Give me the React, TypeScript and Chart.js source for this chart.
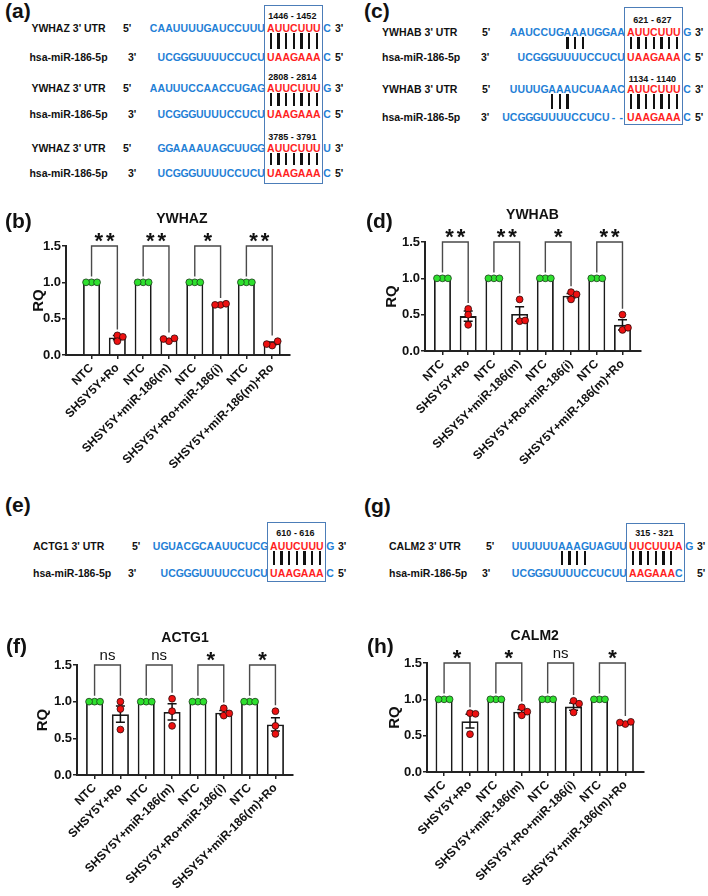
import React, { useEffect, useRef } from "react";
import { Chart, registerables } from "chart.js";

Chart.register(...registerables);

const FONT = '"Liberation Sans", Arial, Helvetica, sans-serif';
Chart.defaults.font.family = FONT;

// ---------------- bar chart data ----------------
const groupLabels = [
  "NTC",
  "SHSY5Y+Ro",
  "NTC",
  "SHSY5Y+miR-186(m)",
  "NTC",
  "SHSY5Y+Ro+miR-186(i)",
  "NTC",
  "SHSY5Y+miR-186(m)+Ro",
];
const yTickValues = [0, 0.5, 1.0, 1.5];

const ywhazMeans = [1, 0.24, 1, 0.21, 1, 0.7, 1, 0.16];
const ywhazSem = [0, 0.03, 0, 0.015, 0, 0.005, 0, 0.018];
const ywhazPoints = [
  [1, 1, 1], [0.27, 0.19, 0.25], [1, 1, 1], [0.19, 0.23, 0.22],
  [1, 1, 1], [0.69, 0.705, 0.69], [1, 1, 1], [0.13, 0.19, 0.15],
];
const ywhazSig = ["**", "**", "*", "**"];

const ywhabMeans = [1, 0.48, 1, 0.51, 1, 0.76, 1, 0.36];
const ywhabSem = [0, 0.07, 0, 0.1, 0, 0.03, 0, 0.07];
const ywhabPoints = [
  [1, 1, 1], [0.58, 0.5, 0.36], [1, 1, 1], [0.71, 0.41, 0.42],
  [1, 1, 1], [0.81, 0.71, 0.78], [1, 1, 1], [0.5, 0.29, 0.32],
];
const ywhabSig = ["**", "**", "*", "**"];

const actg1Means = [1, 0.83, 1, 0.86, 1, 0.85, 1, 0.69];
const actg1Sem = [0, 0.11, 0, 0.11, 0, 0.03, 0, 0.09];
const actg1Points = [
  [1, 1, 1], [1.0, 0.9, 0.62], [1, 1, 1], [1.04, 0.87, 0.67],
  [1, 1, 1], [0.91, 0.81, 0.84], [1, 1, 1], [0.87, 0.67, 0.56],
];
const actg1Sig = ["ns", "ns", "*", "*"];

const calm2Means = [1, 0.7, 1, 0.83, 1, 0.9, 1, 0.67];
const calm2Sem = [0, 0.095, 0, 0.03, 0, 0.05, 0, 0.01];
const calm2Points = [
  [1, 1, 1], [0.81, 0.8, 0.52], [1, 1, 1], [0.89, 0.78, 0.83],
  [1, 1, 1], [0.98, 0.82, 0.94], [1, 1, 1], [0.66, 0.69, 0.68],
];
const calm2Sig = ["*", "*", "ns", "*"];

// ---------------- sequence data ----------------
const mirLabel = "hsa-miR-186-5p";
const ywhazSites = [
  { span: "1446 - 1452", utr: ["CAAUUUUGAUCCUUU", "AUUCUUU", "C"], mir: ["UCGGGUUUUCCUCU", "UAAGAAA", "C"], mirRed: 7, pairs: [0, 1, 2, 3, 4, 5, 6] },
  { span: "2808 - 2814", utr: ["AAUUUCCAACCUGAG", "AUUCUUU", "G"], mir: ["UCGGGUUUUCCUCU", "UAAGAAA", "C"], mirRed: 7, pairs: [0, 1, 2, 3, 4, 5, 6] },
  { span: "3785 - 3791", utr: ["GGAAAAUAGCUUGG", "AUUCUUU", "U"], mir: ["UCGGGUUUUCCUCU", "UAAGAAA", "C"], mirRed: 7, pairs: [0, 1, 2, 3, 4, 5, 6] },
];
const ywhabSites = [
  { span: "621 - 627", utr: ["AAUCCUGAAAUGGAA", "AUUCUUU", "G"], mir: ["UCGGGUUUUCCUCU", "UAAGAAA", "C"], mirRed: 7, pairs: [-8, -7, -6, 0, 1, 2, 3, 4, 5, 6] },
  { span: "1134 - 1140", utr: ["UUUUGAAAUCUAAAC", "AUUCUUU", "C"], mir: ["UCGGGUUUUCCUCU--", "UAAGAAA", "C"], mirRed: 7, pairs: [-10, -9, -8, 0, 1, 2, 3, 4, 5, 6] },
];
const actg1Sites = [
  { span: "610 - 616", utr: ["UGUACGCAAUUCUCG", "AUUCUUU", "G"], mir: ["UCGGGUUUUCCUCU", "UAAGAAA", "C"], mirRed: 7, pairs: [0, 1, 2, 3, 4, 5, 6] },
];
const calm2Sites = [
  { span: "315 - 321", utr: ["UUUUUUAAAGUAGUU", "UUCUUUA", "G"], mir: ["UCGGGUUUUCCUCUU", "AAGAAAC", ""], mirRed: 6, pairs: [-9, -8, -7, -6, 0, 1, 2, 3, 4, 5] },
];

// ---------------- layout / style ----------------
const BLUE = "#1F80D6";
const RED = "#FF1E1E";
const BOXC = "#4C7DB8";
const CW = 7.68;
const GAP = 2;
const SEQ_FONT = `bold 10.5px ${FONT}`;

type Site = { span: string; utr: string[]; mir: string[]; mirRed: number; pairs: number[] };

const seqLayouts = [
  { sites: ywhazSites, utrLabel: "YWHAZ 3' UTR", labelX: 68.5, center: true, x5: 123, x3: 128, redX: 267, rows: [[28, 57, 16], [88, 114, 77], [148, 173, 137]], boxY: 5, boxH: 179 },
  { sites: ywhabSites, utrLabel: "YWHAB 3' UTR", labelX: 382, center: false, x5: 482, x3: 481, redX: 627, rows: [[32, 57, 20], [89, 117, 79]], boxY: 7, boxH: 118 },
  { sites: actg1Sites, utrLabel: "ACTG1 3' UTR", labelX: 33, center: false, x5: 132, x3: 128, redX: 270, rows: [[546, 573, 533]], boxY: 522, boxH: 60 },
  { sites: calm2Sites, utrLabel: "CALM2 3' UTR", labelX: 389, center: false, x5: 486, x3: 482, redX: 629, rows: [[546, 573, 533]], boxY: 523, boxH: 59 },
];

const panelLetters = [
  { t: "(a)", x: 5, y: 0 },
  { t: "(c)", x: 364, y: 0 },
  { t: "(b)", x: 5, y: 210 },
  { t: "(d)", x: 366, y: 210 },
  { t: "(e)", x: 5, y: 494 },
  { t: "(g)", x: 364, y: 495 },
  { t: "(f)", x: 6, y: 635 },
  { t: "(h)", x: 367, y: 635 },
];

const chartLayouts = {
  b: { left: 0, top: 195, width: 354, height: 285, axisLeft: 66, plotTop: 51, plotBottom: 160, plotRight: 290, xMin: -0.99, xMax: 7.69, titlePad: 30 },
  d: { left: 354, top: 195, width: 354, height: 285, axisLeft: 71, plotTop: 47, plotBottom: 156, plotRight: 287, xMin: -0.68, xMax: 7.72, titlePad: 28.6 },
  f: { left: 0, top: 615, width: 354, height: 281, axisLeft: 77, plotTop: 50, plotBottom: 160, plotRight: 293, xMin: -0.68, xMax: 7.68, titlePad: 33.6 },
  h: { left: 354, top: 615, width: 354, height: 281, axisLeft: 73, plotTop: 48, plotBottom: 157, plotRight: 290, xMin: -0.66, xMax: 7.72, titlePad: 31.6 },
};
type ChartLayout = typeof chartLayouts.b;

// ---------------- sequence panel ----------------
function Txt(props: { x: number; cy: number; text: string; color?: string; font?: string; center?: boolean; width?: number }) {
  const { x, cy, text, color = "#111", font = SEQ_FONT, center = false, width } = props;
  const style: React.CSSProperties = {
    position: "absolute",
    top: cy - 7,
    font,
    lineHeight: "14px",
    height: 14,
    whiteSpace: "pre",
    color,
  };
  if (center) {
    style.left = x - 100;
    style.width = 200;
    style.textAlign = "center";
  } else if (width !== undefined) {
    style.left = x;
    style.width = width;
    style.textAlign = "center";
  } else {
    style.left = x;
  }
  return <div style={style}>{text}</div>;
}

function SeqRow(props: { parts: string[]; redCount: number; redX: number; cy: number; keyBase: string }) {
  const { parts, redCount, redX, cy, keyBase } = props;
  const out: React.ReactNode[] = [];
  const [pre, core, suf] = parts;
  for (let j = 0; j < pre.length; j++) {
    const x = redX - GAP - (pre.length - j) * CW;
    out.push(<Txt key={`${keyBase}p${j}`} x={x} cy={cy} width={CW} text={pre[j]} color={BLUE} />);
  }
  for (let j = 0; j < core.length; j++) {
    const x = redX + j * CW;
    out.push(<Txt key={`${keyBase}c${j}`} x={x} cy={cy} width={CW} text={core[j]} color={j < redCount ? RED : BLUE} />);
  }
  for (let j = 0; j < suf.length; j++) {
    const x = redX + 7 * CW + GAP + 0.5 + j * CW;
    out.push(<Txt key={`${keyBase}s${j}`} x={x} cy={cy} width={CW} text={suf[j]} color={BLUE} />);
  }
  return <>{out}</>;
}

function SeqPanel(props: { layout: (typeof seqLayouts)[number] }) {
  const L = props.layout;
  const nodes: React.ReactNode[] = [];
  const endX = L.redX + 7 * CW + GAP + CW + 4.5;
  (L.sites as Site[]).forEach((s, i) => {
    const [ty, by, ny] = L.rows[i];
    nodes.push(<Txt key={`lu${i}`} x={L.labelX} cy={ty} text={L.utrLabel} center={L.center} />);
    nodes.push(<Txt key={`lm${i}`} x={L.labelX} cy={by} text={mirLabel} center={L.center} />);
    nodes.push(<Txt key={`e5${i}`} x={L.x5} cy={ty} text={"5'"} />);
    nodes.push(<Txt key={`e3${i}`} x={L.x3} cy={by} text={"3'"} />);
    nodes.push(<Txt key={`f3${i}`} x={endX} cy={ty} text={"3'"} />);
    nodes.push(<Txt key={`f5${i}`} x={endX} cy={by} text={"5'"} />);
    nodes.push(<Txt key={`n${i}`} x={L.redX + 3.5 * CW - 1.5} cy={ny} text={s.span} center font={`bold 9px ${FONT}`} />);
    nodes.push(<SeqRow key={`ru${i}`} keyBase={`u${i}`} parts={s.utr} redCount={7} redX={L.redX} cy={ty} />);
    nodes.push(<SeqRow key={`rm${i}`} keyBase={`m${i}`} parts={s.mir} redCount={s.mirRed} redX={L.redX} cy={by} />);
    s.pairs.forEach((r, k) => {
      const cx = r < 0 ? L.redX - GAP + r * CW + CW / 2 : L.redX + r * CW + CW / 2;
      nodes.push(
        <div
          key={`pl${i}_${k}`}
          style={{ position: "absolute", left: cx - 1.1, top: ty + 5, width: 2.3, height: by - 8 - (ty + 5), background: "#111" }}
        />
      );
    });
  });
  nodes.push(
    <div
      key="box"
      style={{
        position: "absolute",
        left: L.redX - 3,
        top: L.boxY,
        width: 7 * CW + 5,
        height: L.boxH,
        border: `1.8px solid ${BOXC}`,
        boxSizing: "border-box",
      }}
    />
  );
  return <>{nodes}</>;
}

// ---------------- bar panel ----------------
function swarm(values: number[], pxPerUnit: number): number[] {
  const placed: { dx: number; py: number }[] = [];
  const step = 5.5;
  const minDist = 5.5;
  return values.map((v) => {
    const py = v * pxPerUnit;
    const cands = [0, step, -step, 2 * step, -2 * step];
    let off = 0;
    for (const c of cands) {
      if (placed.every((p) => Math.hypot(p.dx - c, p.py - py) >= minDist - 1e-6)) {
        off = c;
        break;
      }
    }
    placed.push({ dx: off, py });
    return off;
  });
}

function BarPanel(props: { cfg: ChartLayout; title: string; means: number[]; sem: number[]; points: number[][]; sig: string[] }) {
  const { cfg, title, means, sem, points, sig } = props;
  const ref = useRef<HTMLCanvasElement>(null);
  useEffect(() => {
    if (!ref.current) return;
    const pxPerCat = (cfg.plotRight - cfg.axisLeft) / (cfg.xMax - cfg.xMin);
    const pxPerUnit = (cfg.plotBottom - cfg.plotTop) / 1.5;
    const ntc: { x: number; y: number }[] = [];
    const trt: { x: number; y: number }[] = [];
    points.forEach((vals, i) => {
      const offs = swarm(vals, pxPerUnit);
      vals.forEach((v, j) => {
        const p = { x: i + offs[j] / pxPerCat, y: v };
        if (groupLabels[i] === "NTC") ntc.push(p);
        else trt.push(p);
      });
    });

    const annot = {
      id: "annot",
      afterDatasetDraw(chart: any, args: any) {
        if (args.meta.type !== "bar") return;
        const ctx = chart.ctx as CanvasRenderingContext2D;
        const xs = chart.scales.x;
        const ys = chart.scales.y;
        ctx.save();
        ctx.strokeStyle = "#111";
        ctx.lineWidth = 1.5;
        means.forEach((m, i) => {
          if (!(sem[i] > 0)) return;
          const x = xs.getPixelForValue(i);
          const yTop = ys.getPixelForValue(m + sem[i]);
          const yBot = ys.getPixelForValue(m - sem[i]);
          ctx.beginPath();
          ctx.moveTo(x, yTop);
          ctx.lineTo(x, yBot);
          ctx.moveTo(x - 4.5, yTop);
          ctx.lineTo(x + 4.5, yTop);
          ctx.moveTo(x - 4.5, yBot);
          ctx.lineTo(x + 4.5, yBot);
          ctx.stroke();
        });
        ctx.restore();
      },
      afterDraw(chart: any) {
        const ctx = chart.ctx as CanvasRenderingContext2D;
        const xs = chart.scales.x;
        const ys = chart.scales.y;
        const area = chart.chartArea;
        ctx.save();
        // title
        ctx.fillStyle = "#111";
        ctx.font = `bold 14px ${FONT}`;
        ctx.textAlign = "center";
        ctx.textBaseline = "middle";
        const tcx = (xs.getPixelForValue(0) + xs.getPixelForValue(groupLabels.length - 1)) / 2;
        ctx.fillText(title, tcx, area.top - 27);
        // brackets
        const top = ys.getPixelForValue(1.5);
        ctx.strokeStyle = "#4a4a4a";
        ctx.lineWidth = 1.4;
        sig.forEach((s, k) => {
          const i1 = 2 * k;
          const i2 = 2 * k + 1;
          const x1 = xs.getPixelForValue(i1);
          const x2 = xs.getPixelForValue(i2);
          const h1 = Math.max(...points[i1], means[i1] + sem[i1]) + 0.08;
          const h2 = Math.max(...points[i2], means[i2] + sem[i2]) + 0.08;
          ctx.beginPath();
          ctx.moveTo(x1, ys.getPixelForValue(h1));
          ctx.lineTo(x1, top);
          ctx.lineTo(x2, top);
          ctx.lineTo(x2, ys.getPixelForValue(h2));
          ctx.stroke();
          const cx = (x1 + x2) / 2;
          ctx.fillStyle = "#111";
          ctx.textAlign = "center";
          if (s === "ns") {
            ctx.font = `15px ${FONT}`;
            ctx.textBaseline = "alphabetic";
            ctx.fillText("ns", cx, top - 5);
          } else {
            ctx.font = `bold 22px ${FONT}`;
            ctx.textBaseline = "alphabetic";
            const m = ctx.measureText("*");
            const target = top - 8.5;
            const base = target + (m.actualBoundingBoxAscent - m.actualBoundingBoxDescent) / 2;
            const n = s.length;
            for (let q = 0; q < n; q++) {
              ctx.fillText("*", cx + (q - (n - 1) / 2) * 11.5, base);
            }
          }
        });
        ctx.restore();
      },
    };

    const chart = new Chart(ref.current, {
      type: "bar",
      data: {
        datasets: [
          {
            type: "bar",
            data: means.map((m, i) => ({ x: i, y: m })),
            backgroundColor: "#ffffff",
            borderColor: "#1a1a1a",
            borderWidth: 1.8,
            categoryPercentage: 1,
            barPercentage: 0.66,
            order: 2,
          } as any,
          {
            type: "scatter",
            data: ntc,
            backgroundColor: "#2EE02E",
            borderColor: "#1a3a1a",
            borderWidth: 0.8,
            pointRadius: 3.4,
            order: 1,
          } as any,
          {
            type: "scatter",
            data: trt,
            backgroundColor: "#EE1111",
            borderColor: "#2a0a0a",
            borderWidth: 0.8,
            pointRadius: 3.4,
            order: 1,
          } as any,
        ],
      },
      options: {
        responsive: false,
        animation: false,
        events: [],
        layout: { padding: { top: cfg.plotTop, right: cfg.width - cfg.plotRight, bottom: 0, left: 0 } },
        plugins: { legend: { display: false }, tooltip: { enabled: false }, title: { display: false } },
        scales: {
          x: {
            type: "linear",
            min: cfg.xMin,
            max: cfg.xMax,
            offset: false,
            afterBuildTicks: (s: any) => {
              s.ticks = groupLabels.map((_, i) => ({ value: i }));
            },
            afterFit: (s: any) => {
              s.height = cfg.height - cfg.plotBottom;
              s.paddingLeft = 0;
              s.paddingRight = 0;
            },
            ticks: {
              autoSkip: false,
              minRotation: 45,
              maxRotation: 45,
              padding: 2,
              color: "#111",
              font: { size: 12, weight: "bold", family: FONT },
              callback: (v: any) => groupLabels[Math.round(Number(v))] ?? "",
            },
            grid: { offset: false, drawOnChartArea: false, drawTicks: true, tickLength: 4, color: "#222", lineWidth: 1.5 },
            border: { display: true, color: "#222", width: 2 },
          } as any,
          y: {
            type: "linear",
            min: 0,
            max: 1.5,
            afterBuildTicks: (s: any) => {
              s.ticks = yTickValues.map((v) => ({ value: v }));
            },
            afterFit: (s: any) => {
              s.width = cfg.axisLeft;
              s.paddingTop = 0;
              s.paddingBottom = 0;
            },
            ticks: {
              padding: 1,
              color: "#111",
              font: { size: 13, weight: "bold", family: FONT },
              callback: (v: any) => Number(v).toFixed(1),
            },
            grid: { drawOnChartArea: false, drawTicks: true, tickLength: 4, color: "#222", lineWidth: 1.5 },
            border: { display: true, color: "#222", width: 2 },
            title: {
              display: true,
              text: "RQ",
              color: "#111",
              font: { size: 15, weight: "bold", family: FONT },
              padding: { top: cfg.titlePad, bottom: 0 },
            },
          } as any,
        },
      },
      plugins: [annot],
    } as any);
    return () => chart.destroy();
  }, []);
  return (
    <canvas
      ref={ref}
      width={cfg.width}
      height={cfg.height}
      style={{ position: "absolute", left: cfg.left, top: cfg.top, width: cfg.width, height: cfg.height }}
    />
  );
}

export default function App() {
  return (
    <div
      style={{
        position: "absolute",
        left: 0,
        top: 0,
        width: 708,
        height: 896,
        background: "#ffffff",
        overflow: "hidden",
        fontFamily: FONT,
      }}
    >
      {seqLayouts.map((L, i) => (
        <SeqPanel key={`sp${i}`} layout={L} />
      ))}
      <BarPanel cfg={chartLayouts.b} title="YWHAZ" means={ywhazMeans} sem={ywhazSem} points={ywhazPoints} sig={ywhazSig} />
      <BarPanel cfg={chartLayouts.d} title="YWHAB" means={ywhabMeans} sem={ywhabSem} points={ywhabPoints} sig={ywhabSig} />
      <BarPanel cfg={chartLayouts.f} title="ACTG1" means={actg1Means} sem={actg1Sem} points={actg1Points} sig={actg1Sig} />
      <BarPanel cfg={chartLayouts.h} title="CALM2" means={calm2Means} sem={calm2Sem} points={calm2Points} sig={calm2Sig} />
      {panelLetters.map((p) => (
        <div
          key={p.t}
          style={{ position: "absolute", left: p.x, top: p.y, font: `bold 21px ${FONT}`, lineHeight: "22px", color: "#111" }}
        >
          {p.t}
        </div>
      ))}
    </div>
  );
}
